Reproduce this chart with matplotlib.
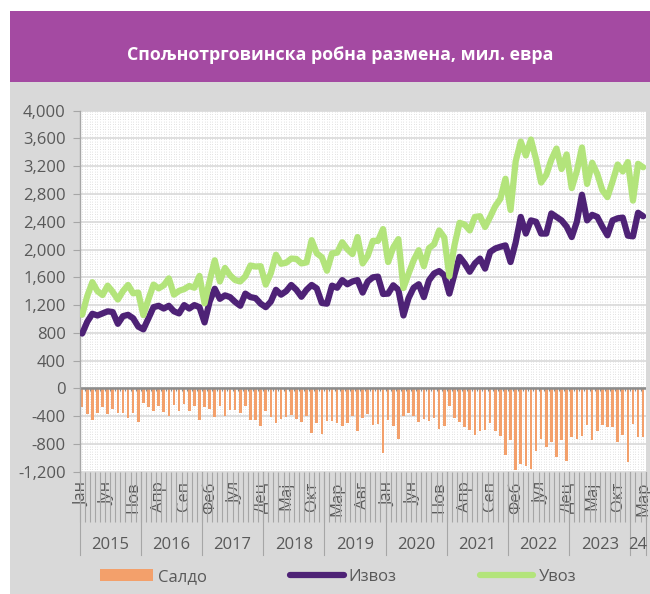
import matplotlib
matplotlib.use("Agg")
import matplotlib.pyplot as plt
import matplotlib.transforms as mtransforms
from matplotlib.patches import Rectangle
import numpy as np

plt.rcParams['font.family'] = ['Open Sans', 'DejaVu Sans']

# --- data (mil. EUR, monthly Jan 2015 - Mar 2024) ---
month_names = ['Јан', 'Феб', 'Мар', 'Апр', 'Мај', 'Јун',
               'Јул', 'Авг', 'Сеп', 'Окт', 'Нов', 'Дец']
years = ['2015', '2016', '2017', '2018', '2019', '2020', '2021', '2022', '2023', '24']

izvoz = [790, 960, 1075, 1050, 1080, 1110, 1100, 930, 1040, 1060, 1010, 890,
         850, 1010, 1170, 1190, 1150, 1190, 1110, 1080, 1200, 1150, 1200, 1170,
         950, 1250, 1435, 1290, 1340, 1315, 1245, 1190, 1365, 1315, 1300, 1220,
         1170, 1250, 1420, 1350, 1400, 1490, 1420, 1320, 1420, 1490, 1440, 1230,
         1220, 1480, 1450, 1560, 1500, 1540, 1560, 1380, 1540, 1600, 1610, 1360,
         1365, 1485, 1420, 1050, 1300, 1450, 1500, 1315, 1555, 1655, 1690, 1630,
         1365, 1640, 1895, 1800, 1680, 1800, 1870, 1725, 1965, 2015, 2040, 2060,
         1820, 2100, 2470, 2230, 2420, 2400, 2230, 2230, 2520, 2470, 2420, 2330,
         2180, 2400, 2790, 2420, 2500, 2470, 2330, 2205, 2420, 2450, 2460, 2200,
         2190, 2530, 2480]

uvoz = [1060, 1330, 1530, 1400, 1345, 1480, 1390, 1280, 1400, 1490, 1370, 1380,
        1055, 1285, 1495, 1440, 1485, 1585, 1350, 1405, 1430, 1475, 1450, 1620,
        1225, 1550, 1845, 1540, 1735, 1630, 1560, 1540, 1615, 1770, 1755, 1760,
        1495, 1660, 1925, 1795, 1810, 1870, 1865, 1800, 1815, 2135, 1945, 1890,
        1695, 1945, 1955, 2105, 2005, 1935, 2180, 1800, 1910, 2125, 2125, 2295,
        1820, 2030, 2150, 1445, 1650, 1845, 1990, 1760, 2020, 2075, 2275, 2175,
        1615, 2060, 2385, 2360, 2275, 2470, 2480, 2325, 2470, 2625, 2730, 3020,
        2570, 3270, 3555, 3355, 3585, 3300, 2965, 3075, 3295, 3455, 3160, 3370,
        2885, 3130, 3470, 2945, 3250, 3090, 2855, 2755, 2980, 3225, 3125, 3260,
        2705, 3235, 3185]

saldo = [-275, -370, -455, -350, -265, -370, -290, -350, -360, -430, -360, -490,
         -205, -275, -325, -250, -335, -395, -240, -325, -230, -325, -250, -450,
         -275, -300, -410, -250, -395, -315, -315, -350, -250, -455, -455, -540,
         -325, -410, -505, -445, -410, -380, -445, -480, -395, -645, -505, -660,
         -475, -465, -505, -545, -505, -395, -620, -420, -370, -525, -515, -935,
         -455, -545, -730, -395, -350, -395, -490, -445, -465, -420, -585, -545,
         -250, -420, -490, -560, -595, -670, -610, -600, -505, -610, -690, -960,
         -750, -1170, -1085, -1125, -1165, -900, -735, -845, -775, -985, -740, -1040,
         -705, -730, -680, -525, -750, -620, -525, -550, -560, -775, -665, -1060,
         -515, -705, -705]

# --- colours ---
c_title = '#A44AA2'
c_panel = '#D9D9D9'
c_saldo = '#F3A06B'
c_izvoz = '#4E2276'
c_uvoz = '#B3E47B'
c_text = '#595959'
c_axis = '#A6A6A6'

W, H = 650, 594
fig = plt.figure(figsize=(W / 100, H / 100), dpi=100)
fig.patch.set_facecolor('white')

# background panel + title bar
fig.add_artist(Rectangle((10 / W, 0), 640 / W, (H - 82) / H, transform=fig.transFigure,
                         facecolor=c_panel, edgecolor='none', zorder=0))
fig.add_artist(Rectangle((10 / W, (H - 82) / H), 640 / W, 71 / H, transform=fig.transFigure,
                         facecolor=c_title, edgecolor='none', zorder=0))
fig.text(340 / W, 1 - 55 / H, 'Спољнотрговинска робна размена, мил. евра',
         color='white', fontsize=12.8, fontweight='bold', ha='center', va='center')

ax = fig.add_axes([79.6 / W, 122.3 / H, (645.7 - 79.6) / W, 361 / H])
ax.set_facecolor('white')

n = len(izvoz)
x = np.arange(n)
bounds = np.arange(n + 1) - 0.5

# dotted background texture
ax.vlines(np.arange(-0.5, n, 0.5), -1200, 4000, colors='#D8D8D8', lw=0.6,
          linestyles=(0, (1, 2)), zorder=0)

bars = ax.bar(x, saldo, width=0.5, color=c_saldo, zorder=2)
ax.axhline(0, color='#8C8C8C', lw=1.8, zorder=2.5)
ax.vlines(bounds, -40, 0, colors='#8C8C8C', lw=0.8, zorder=2.5)
l_iz, = ax.plot(x, izvoz, color=c_izvoz, lw=4.5, solid_capstyle='round',
                solid_joinstyle='round', zorder=3)
l_uv, = ax.plot(x, uvoz, color=c_uvoz, lw=4.5, solid_capstyle='round',
                solid_joinstyle='round', zorder=4)

ax.set_xlim(-0.5, n - 0.5)
ax.set_ylim(-1200, 4000)
ax.set_yticks(np.arange(-1200, 4001, 400))
ax.yaxis.set_major_formatter(plt.FuncFormatter(lambda v, p: f'{v:,.0f}'))
ax.yaxis.grid(True, color='#D9D9D9', lw=1.2, zorder=1)
ax.set_axisbelow(True)
ax.tick_params(axis='y', colors=c_axis, labelcolor=c_text, labelsize=12, length=5,
               width=0.8, pad=5)

for s in ['top', 'right', 'bottom']:
    ax.spines[s].set_visible(False)
ax.spines['left'].set_color(c_axis)
ax.spines['left'].set_linewidth(1.0)

# month labels every 5th month
lab_pos = [i for i in range(n) if i % 5 == 0]
ax.set_xticks(lab_pos)
ax.set_xticklabels([month_names[i % 12] for i in lab_pos], rotation=90)
ax.set_xticks(bounds, minor=True)
ax.tick_params(axis='x', which='major', length=0, pad=7, labelsize=12, labelcolor=c_text)
ax.tick_params(axis='x', which='minor', length=36, width=0.8, color=c_axis, direction='out')

# year row
trans = mtransforms.blended_transform_factory(ax.transData, fig.transFigure)
y_top = 122.3 / H
y_bot = 1 - 555 / H
for k, yr in enumerate(years):
    start = 12 * k
    end = min(12 * k + 12, n)
    ax.plot([start - 0.5, start - 0.5], [y_top, y_bot], transform=trans, color=c_axis,
            lw=0.8, clip_on=False)
    ax.text((start + end - 1) / 2, 1 - 545 / H, yr, transform=trans, ha='center',
            va='center', fontsize=12, color=c_text)
ax.plot([n - 0.5, n - 0.5], [y_top, y_bot], transform=trans, color=c_axis, lw=0.8, clip_on=False)

leg = fig.legend([bars, l_iz, l_uv], ['Салдо', 'Извоз', 'Увоз'], loc='center',
                 bbox_to_anchor=(0.52, 1 - 577 / H), ncol=3, frameon=False,
                 handlelength=3.2, handletextpad=0.3, columnspacing=5.0, fontsize=12,
                 labelcolor=c_text)

fig.savefig('out.png', dpi=100)
